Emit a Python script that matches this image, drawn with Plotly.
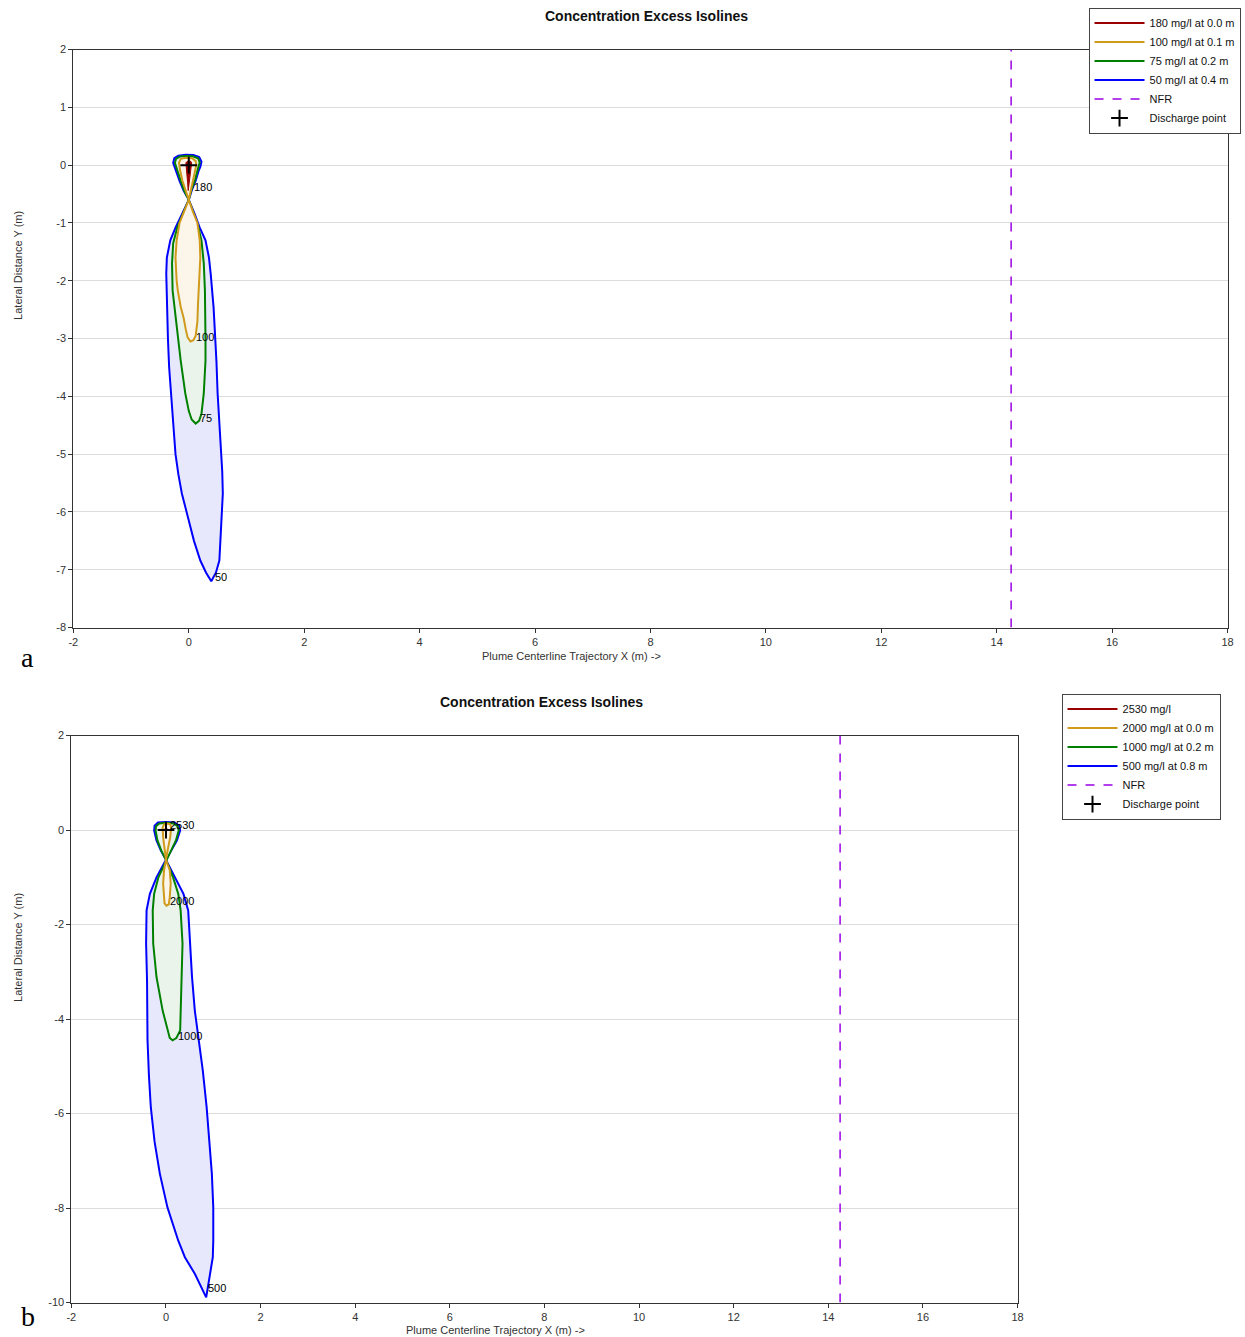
import plotly.graph_objects as go

W, H = 1245, 1337
FONT = "Liberation Sans, Arial, sans-serif"

# ---------------- Chart a data ----------------
A_LEGEND = ["180 mg/l at 0.0 m", "100 mg/l at 0.1 m", "75 mg/l at 0.2 m", "50 mg/l at 0.4 m"]
A_LABELS = ["180", "100", "75", "50"]

A_C50_X = [0, -0.09, -0.16, -0.23, -0.27, -0.25, -0.18, -0.05, 0.08, 0.18, 0.22, 0.20, 0.17, 0.12, 0.05, 0,
           -0.12, -0.23, -0.32, -0.38, -0.39, -0.38, -0.36, -0.34, -0.31, -0.27, -0.23, -0.18, -0.12, -0.03, 0.09, 0.20, 0.30, 0.39,
           0.47, 0.53, 0.55, 0.58, 0.59, 0.58, 0.56, 0.53, 0.50, 0.48, 0.46, 0.43, 0.38, 0.35, 0.29, 0.19, 0.10, 0]
A_C50_Y = [-0.6, -0.44, -0.27, -0.09, 0.04, 0.12, 0.165, 0.18, 0.175, 0.14, 0.06, -0.03, -0.10, -0.27, -0.44, -0.6,
           -0.84, -1.08, -1.3, -1.6, -1.88, -2.46, -3.03, -3.5, -3.95, -4.5, -5.0, -5.35, -5.68, -6.03, -6.5, -6.84, -7.05, -7.2,
           -7.05, -6.84, -6.5, -6.03, -5.68, -5.3, -5.0, -4.5, -3.95, -3.4, -3.03, -2.46, -1.88, -1.6, -1.3, -1.08, -0.84, -0.6]

A_C75_X = [0, -0.08, -0.14, -0.20, -0.24, -0.22, -0.15, -0.04, 0.07, 0.16, 0.19, 0.16, 0.11, 0.04, 0,
           -0.10, -0.20, -0.27, -0.29, -0.28, -0.23, -0.17, -0.14, -0.06, 0.0, 0.05, 0.12,
           0.18, 0.22, 0.26, 0.29, 0.29, 0.29, 0.28, 0.26, 0.22, 0.16, 0.08, 0]
A_C75_Y = [-0.6, -0.44, -0.27, -0.09, 0.04, 0.11, 0.15, 0.16, 0.155, 0.12, 0.05, -0.06, -0.25, -0.44, -0.6,
           -0.84, -1.08, -1.35, -1.7, -2.17, -2.6, -3.03, -3.38, -3.95, -4.25, -4.4, -4.47,
           -4.42, -4.3, -3.95, -3.38, -3.03, -2.6, -2.17, -1.7, -1.3, -1.05, -0.82, -0.6]

A_C100_X = [0, -0.06, -0.11, -0.15, -0.17, -0.14, -0.05, 0.06, 0.12, 0.13, 0.10, 0.06, 0.03, 0,
            -0.08, -0.16, -0.21, -0.23, -0.21, -0.19, -0.14, -0.09, -0.05, -0.02, 0.03,
            0.08, 0.12, 0.15, 0.16, 0.18, 0.20, 0.19, 0.15, 0.07, 0]
A_C100_Y = [-0.6, -0.44, -0.27, -0.09, 0.04, 0.11, 0.13, 0.12, 0.07, 0.0, -0.15, -0.3, -0.45, -0.6,
            -0.8, -1.0, -1.3, -1.6, -2.0, -2.17, -2.45, -2.64, -2.85, -2.98, -3.05,
            -3.03, -2.95, -2.7, -2.4, -2.0, -1.6, -1.3, -1.0, -0.8, -0.6]

A_C180_X = [-0.05, -0.02, 0.03, 0.05, 0.03, 0.01, -0.01, -0.02, -0.04, -0.05]
A_C180_Y = [0.04, 0.07, 0.07, 0.04, -0.12, -0.32, -0.44, -0.3, -0.12, 0.04]

A_LABEL_X = [0.05, 0.09, 0.16, 0.42]
A_LABEL_Y = [-0.37, -2.98, -4.38, -7.13]

A_YTICKS = [2, 1, 0, -1, -2, -3, -4, -5, -6, -7, -8]
A_YTICKTEXT = ["2", "1", "0", "-1", "-2", "-3", "-4", "-5", "-6", "-7", "-8"]

# ---------------- Chart b data ----------------
B_LEGEND = ["2530 mg/l", "2000 mg/l at 0.0 m", "1000 mg/l at 0.2 m", "500 mg/l at 0.8 m"]
B_LABELS = ["2530", "2000", "1000", "500"]

B_C500_X = [0, -0.11, -0.20, -0.25, -0.24, -0.17, 0.0, 0.18, 0.28, 0.30, 0.23, 0.12, 0,
            -0.20, -0.34, -0.41, -0.42, -0.40, -0.39, -0.39, -0.36, -0.32, -0.24, -0.13, 0.03, 0.26, 0.40, 0.61, 0.85,
            0.93, 0.99, 1.0, 1.0, 0.97, 0.92, 0.86, 0.78, 0.70, 0.61, 0.55, 0.51, 0.47, 0.37, 0.19, 0]
B_C500_Y = [-0.63, -0.43, -0.22, -0.01, 0.09, 0.16, 0.17, 0.16, 0.09, -0.01, -0.22, -0.43, -0.63,
            -1.0, -1.35, -1.7, -2.4, -3.2, -3.82, -4.45, -5.2, -5.87, -6.6, -7.27, -7.98, -8.69, -9.04, -9.39, -9.89,
            -9.39, -9.04, -8.69, -7.98, -7.27, -6.6, -5.87, -5.1, -4.45, -3.82, -3.1, -2.4, -1.7, -1.35, -1.0, -0.63]

B_C1000_X = [0, -0.10, -0.18, -0.22, -0.21, -0.14, 0.0, 0.16, 0.25, 0.27, 0.21, 0.11, 0,
             -0.16, -0.25, -0.28, -0.27, -0.20, -0.07, 0.03, 0.08, 0.14,
             0.22, 0.30, 0.31, 0.33, 0.35, 0.31, 0.26, 0.15, 0]
B_C1000_Y = [-0.63, -0.43, -0.22, -0.01, 0.08, 0.14, 0.155, 0.14, 0.08, -0.01, -0.22, -0.43, -0.63,
             -1.0, -1.35, -1.7, -2.4, -3.11, -3.82, -4.24, -4.4, -4.45,
             -4.4, -4.24, -3.82, -3.11, -2.4, -1.7, -1.35, -1.0, -0.63]

B_C2000_X = [0, -0.03, -0.06, -0.07, -0.04, 0.03, 0.09, 0.11, 0.09, 0.04, 0,
             -0.04, -0.06, -0.05, -0.03, 0.01, 0.06, 0.08, 0.10, 0.08, 0]
B_C2000_Y = [-0.63, -0.4, -0.15, 0.05, 0.12, 0.14, 0.12, 0.05, -0.15, -0.4, -0.63,
             -0.85, -1.13, -1.42, -1.55, -1.6, -1.57, -1.42, -1.13, -0.85, -0.63]

B_C2530_X = [-0.02, 0.02, 0.01, -0.01, -0.02]
B_C2530_Y = [0.04, 0.04, -0.05, -0.05, 0.04]

B_LABEL_X = [0.04, 0.04, 0.21, 0.85]
B_LABEL_Y = [0.10, -1.51, -4.35, -9.70]

B_YTICKS = [2, 0, -2, -4, -6, -8, -10]
B_YTICKTEXT = ["2", "0", "-2", "-4", "-6", "-8", "-10"]

X_TICKS = [-2, 0, 2, 4, 6, 8, 10, 12, 14, 16, 18]
X_TICKTEXT = ["-2", "0", "2", "4", "6", "8", "10", "12", "14", "16", "18"]

NFR_X = 14.25
DISCHARGE_X, DISCHARGE_Y = 0, 0

# ---------------- styles ----------------
LINE_COLORS = ["#9b0000", "#d09a1c", "#008000", "#0000ff"]
FILL_COLORS = ["#9b0000", "#fcf6ea", "#eaf4ea", "#e8e8fc"]
LINE_WIDTHS = [1, 2, 2, 2]
NFR_COLOR = "#9a00e6"

# compensation for the slight rescale observed in the photographed page
SCALE, OFF_X, OFF_Y = 0.991, 4.66, 5.44


def px2paper_x(px):
    return ((px - OFF_X) / SCALE) / W


def px2paper_y(py):
    return 1 - ((py - OFF_Y) / SCALE) / H


fig = go.Figure()


def add_chart(xa, ya, legend, contours, names, labels, lab_x, lab_y, yrange):
    order = [3, 2, 1, 0]  # outermost first
    for i in order:
        cx, cy = contours[i]
        fig.add_trace(go.Scatter(
            x=cx, y=cy, mode="lines", fill="toself", fillcolor=FILL_COLORS[i],
            line=dict(color=LINE_COLORS[i], width=LINE_WIDTHS[i]), name=names[i],
            xaxis=xa, yaxis=ya, showlegend=False, hoverinfo="skip"))
    for i in range(4):
        fig.add_trace(go.Scatter(
            x=[None], y=[None], mode="lines", line=dict(color=LINE_COLORS[i], width=2),
            name=names[i], xaxis=xa, yaxis=ya, legend=legend, legendrank=i + 1))
    fig.add_trace(go.Scatter(
        x=[NFR_X, NFR_X], y=yrange, mode="lines",
        line=dict(color=NFR_COLOR, width=1.5, dash="dash"), name="NFR",
        xaxis=xa, yaxis=ya, legend=legend, legendrank=5, hoverinfo="skip"))
    fig.add_trace(go.Scatter(
        x=[DISCHARGE_X], y=[DISCHARGE_Y], mode="markers",
        marker=dict(symbol="cross-thin", size=12, line=dict(width=2, color="black")),
        name="Discharge point", xaxis=xa, yaxis=ya, legend=legend, legendrank=6,
        hoverinfo="skip"))
    for t, lx, ly in zip(labels, lab_x, lab_y):
        fig.add_annotation(x=lx, y=ly, xref=xa, yref=ya, text=t,
                           showarrow=False, xanchor="left", yanchor="middle",
                           font=dict(family=FONT, size=11, color="#000"))


add_chart("x", "y", "legend",
          [(A_C180_X, A_C180_Y), (A_C100_X, A_C100_Y), (A_C75_X, A_C75_Y), (A_C50_X, A_C50_Y)],
          A_LEGEND, A_LABELS, A_LABEL_X, A_LABEL_Y, [-8, 2])
add_chart("x2", "y2", "legend2",
          [(B_C2530_X, B_C2530_Y), (B_C2000_X, B_C2000_Y), (B_C1000_X, B_C1000_Y), (B_C500_X, B_C500_Y)],
          B_LEGEND, B_LABELS, B_LABEL_X, B_LABEL_Y, [-10, 2])

axis_common = dict(showline=True, linecolor="#333", linewidth=1, mirror=True, zeroline=False,
                   ticks="outside", ticklen=4, tickcolor="#333",
                   tickfont=dict(family=FONT, size=11, color="#333"))

legend_common = dict(xanchor="left", yanchor="top", bgcolor="white", bordercolor="#444",
                     borderwidth=1, itemwidth=50, traceorder="normal",
                     font=dict(family=FONT, size=11, color="#111"))

fig.update_layout(
    width=W, height=H, margin=dict(l=0, r=0, t=0, b=0),
    paper_bgcolor="white", plot_bgcolor="white", showlegend=True,
    font=dict(family=FONT, size=11, color="#222"),
    xaxis=dict(domain=[px2paper_x(73), px2paper_x(1227)], range=[-2, 18], anchor="y",
               tickvals=X_TICKS, ticktext=X_TICKTEXT, showgrid=False, **axis_common),
    yaxis=dict(domain=[px2paper_y(627), px2paper_y(49)], range=[-8, 2], anchor="x",
               tickvals=A_YTICKS, ticktext=A_YTICKTEXT, showgrid=True, gridcolor="#dcdcdc",
               **axis_common),
    xaxis2=dict(domain=[px2paper_x(71), px2paper_x(1017)], range=[-2, 18], anchor="y2",
                tickvals=X_TICKS, ticktext=X_TICKTEXT, showgrid=False, **axis_common),
    yaxis2=dict(domain=[px2paper_y(1302), px2paper_y(735)], range=[-10, 2], anchor="x2",
                tickvals=B_YTICKS, ticktext=B_YTICKTEXT, showgrid=True, gridcolor="#dcdcdc",
                **axis_common),
    legend=dict(x=px2paper_x(1088), y=px2paper_y(7), **legend_common),
    legend2=dict(x=px2paper_x(1061), y=px2paper_y(693), **legend_common),
)

paper_texts = [
    ("<b>Concentration Excess Isolines</b>", 646, 15, 14, 0, "#111", FONT),
    ("<b>Concentration Excess Isolines</b>", 541, 701, 14, 0, "#111", FONT),
    ("Plume Centerline Trajectory X (m) ->", 571, 655, 11, 0, "#333", FONT),
    ("Plume Centerline Trajectory X (m) ->", 495, 1329, 11, 0, "#333", FONT),
    ("Lateral Distance Y (m)", 17, 265, 11, -90, "#333", FONT),
    ("Lateral Distance Y (m)", 17, 947, 11, -90, "#333", FONT),
    ("a", 27, 657, 28, 0, "#000", "Liberation Serif, Times New Roman, serif"),
    ("b", 28, 1316, 28, 0, "#000", "Liberation Serif, Times New Roman, serif"),
]
for text, px, py, size, ang, col, fam in paper_texts:
    fig.add_annotation(x=px2paper_x(px), y=px2paper_y(py), xref="paper", yref="paper",
                       text=text, showarrow=False, xanchor="center", yanchor="middle",
                       textangle=ang, font=dict(family=fam, size=size, color=col))

fig.write_html(
    "out.html",
    config={"displayModeBar": False},
    post_script="document.body.style.margin='0';document.body.style.padding='0';"
                "document.documentElement.style.overflow='hidden';",
)
